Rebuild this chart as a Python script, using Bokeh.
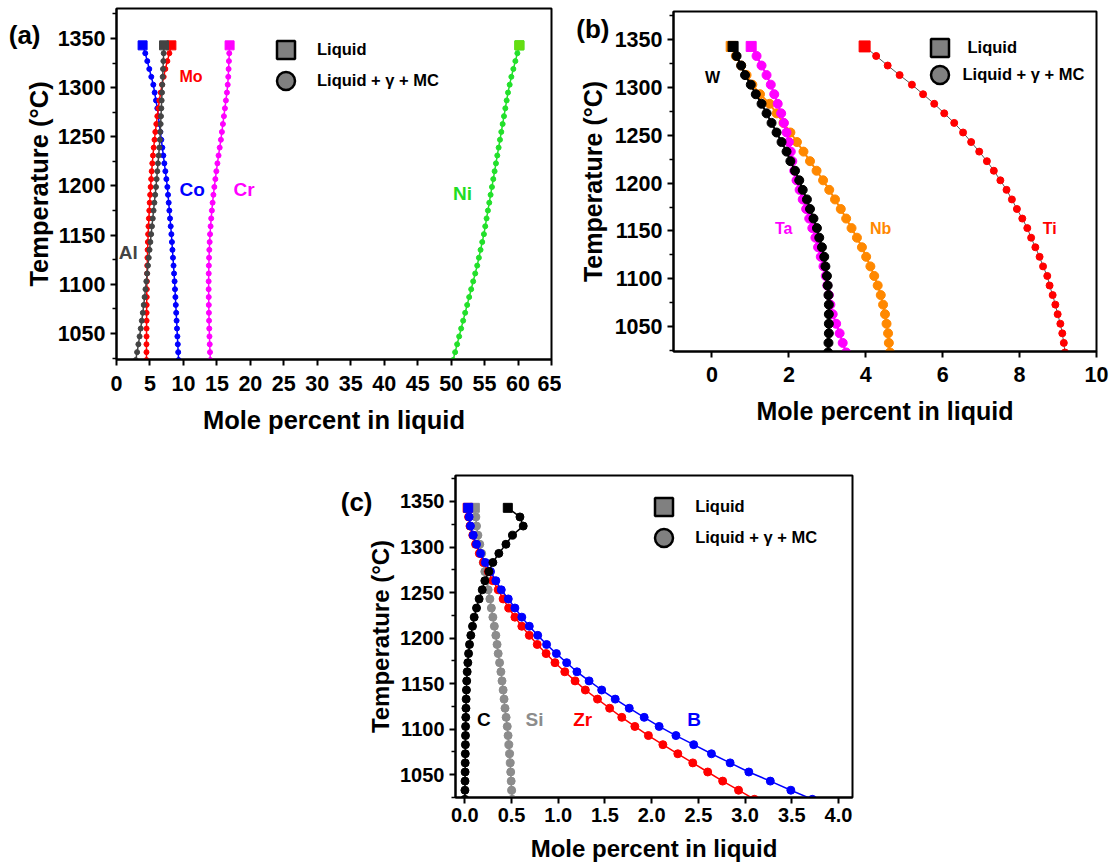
from bokeh.plotting import figure
from bokeh.layouts import column, row
from bokeh.models import (Range1d, FixedTicker, Label, Legend, LegendItem,
                          NumeralTickFormatter, LinearAxis)
from bokeh.embed import file_html
from bokeh.resources import INLINE

FONT = "Liberation Sans"

# ---------------- data ----------------
# (a) major elements, temperature steps of 8 degC
temp_a = [1343, 1335, 1327, 1319, 1311, 1303, 1295, 1287, 1279, 1271, 1263,
          1255, 1247, 1239, 1231, 1223, 1215, 1207, 1199, 1191, 1183, 1175,
          1167, 1159, 1151, 1143, 1135, 1127, 1119, 1111, 1103, 1095, 1087,
          1079, 1071, 1063, 1055, 1047, 1039, 1031, 1023]
al = [7.1, 7.05, 7.0, 6.95, 6.9, 6.85, 6.8, 6.75, 6.7, 6.65, 6.6, 6.55, 6.48,
      6.4, 6.3, 6.2, 6.1, 6.0, 5.9, 5.78, 5.66, 5.54, 5.42, 5.3, 5.18, 5.06,
      4.94, 4.82, 4.7, 4.58, 4.46, 4.33, 4.2, 4.07, 3.93, 3.78, 3.62, 3.45,
      3.27, 3.08, 2.88]
mo = [8.2, 7.9, 7.6, 7.3, 7.05, 6.8, 6.6, 6.4, 6.25, 6.1, 5.95, 5.8, 5.68,
      5.56, 5.45, 5.35, 5.26, 5.18, 5.1, 5.03, 4.96, 4.9, 4.84, 4.78, 4.73,
      4.69, 4.65, 4.62, 4.59, 4.57, 4.55, 4.53, 4.52, 4.51, 4.5, 4.5, 4.49,
      4.49, 4.48, 4.48, 4.48]
co = [3.9, 4.3, 4.6, 4.9, 5.2, 5.5, 5.7, 5.9, 6.1, 6.25, 6.4, 6.55, 6.7,
      6.85, 7.0, 7.15, 7.3, 7.45, 7.6, 7.7, 7.8, 7.9, 8.0, 8.1, 8.2, 8.28,
      8.36, 8.44, 8.52, 8.6, 8.68, 8.74, 8.8, 8.86, 8.92, 8.98, 9.04, 9.1,
      9.16, 9.22, 9.28]
cr = [16.9, 16.85, 16.8, 16.75, 16.7, 16.62, 16.5, 16.35, 16.2, 16.05, 15.9,
      15.75, 15.6, 15.42, 15.25, 15.08, 14.92, 14.77, 14.62, 14.48, 14.36,
      14.25, 14.15, 14.06, 13.98, 13.92, 13.87, 13.83, 13.8, 13.78, 13.77,
      13.77, 13.78, 13.79, 13.81, 13.83, 13.86, 13.89, 13.93, 13.97, 14.02]
ni = [60.2, 59.9, 59.6, 59.3, 59.0, 58.75, 58.5, 58.3, 58.1, 57.9, 57.7, 57.5,
      57.3, 57.1, 56.9, 56.7, 56.5, 56.3, 56.1, 55.9, 55.7, 55.5, 55.3, 55.1,
      54.9, 54.65, 54.4, 54.15, 53.9, 53.6, 53.3, 53.0, 52.7, 52.4, 52.1,
      51.8, 51.5, 51.2, 50.9, 50.6, 50.3]

# (b) and (c), temperature steps of 10 degC
temp_bc = [1343, 1333, 1323, 1313, 1303, 1293, 1283, 1273, 1263, 1253, 1243,
           1233, 1223, 1213, 1203, 1193, 1183, 1173, 1163, 1153, 1143, 1133,
           1123, 1113, 1103, 1093, 1083, 1073, 1063, 1053, 1043, 1033, 1023]
w = [0.55, 0.64, 0.76, 0.86, 1.01, 1.14, 1.29, 1.42, 1.55, 1.68, 1.81, 1.94,
     2.04, 2.16, 2.27, 2.36, 2.47, 2.55, 2.64, 2.73, 2.79, 2.86, 2.92, 2.95,
     2.99, 3.01, 3.03, 3.04, 3.04, 3.04, 3.04, 3.03, 3.02]
ta = [1.02, 1.16, 1.29, 1.42, 1.53, 1.62, 1.71, 1.80, 1.87, 1.94, 2.00, 2.05,
      2.09, 2.14, 2.20, 2.28, 2.36, 2.45, 2.53, 2.61, 2.69, 2.76, 2.83, 2.90,
      2.96, 3.00, 3.04, 3.08, 3.14, 3.23, 3.32, 3.40, 3.49]
nb = [0.50, 0.62, 0.76, 0.90, 1.05, 1.25, 1.50, 1.68, 1.86, 2.04, 2.21, 2.38,
      2.55, 2.72, 2.89, 3.05, 3.20, 3.35, 3.49, 3.63, 3.77, 3.90, 4.01, 4.12,
      4.22, 4.31, 4.39, 4.45, 4.50, 4.54, 4.58, 4.60, 4.63]
ti = [3.97, 4.27, 4.57, 4.88, 5.20, 5.49, 5.78, 6.04, 6.30, 6.53, 6.74, 6.95,
      7.15, 7.33, 7.50, 7.66, 7.80, 7.93, 8.07, 8.20, 8.30, 8.41, 8.52, 8.61,
      8.72, 8.78, 8.86, 8.93, 8.99, 9.06, 9.11, 9.15, 9.18]

c_el = [0.46, 0.59, 0.625, 0.51, 0.44, 0.364, 0.30, 0.257, 0.214, 0.186, 0.153,
        0.125, 0.10, 0.082, 0.064, 0.05, 0.04, 0.032, 0.025, 0.02, 0.017, 0.014,
        0.012, 0.01, 0.008, 0.007, 0.006, 0.005, 0.004, 0.003, 0.002, 0.001, 0.0]
si = [0.107, 0.118, 0.125, 0.14, 0.16, 0.18, 0.197, 0.214, 0.232, 0.25, 0.268,
      0.284, 0.30, 0.316, 0.332, 0.345, 0.357, 0.372, 0.386, 0.398, 0.41, 0.42,
      0.43, 0.442, 0.454, 0.463, 0.471, 0.479, 0.486, 0.491, 0.496, 0.501, 0.507]
zr = [0.03, 0.04, 0.055, 0.085, 0.115, 0.155, 0.2, 0.25, 0.30, 0.357, 0.41,
      0.47, 0.536, 0.61, 0.69, 0.775, 0.87, 0.965, 1.07, 1.18, 1.29, 1.42,
      1.55, 1.68, 1.82, 1.965, 2.12, 2.28, 2.44, 2.6, 2.76, 2.93, 3.1]
b_el = [0.036, 0.046, 0.06, 0.09, 0.125, 0.168, 0.22, 0.275, 0.332, 0.39, 0.465,
        0.536, 0.61, 0.69, 0.78, 0.875, 0.98, 1.09, 1.2, 1.33, 1.465, 1.61, 1.76,
        1.92, 2.08, 2.26, 2.45, 2.64, 2.84, 3.04, 3.27, 3.49, 3.72]

y_major = [1050, 1100, 1150, 1200, 1250, 1300, 1350]
y_minor = [1025, 1075, 1125, 1175, 1225, 1275, 1325, 1375]
x_ticks_a = [0, 5, 10, 15, 20, 25, 30, 35, 40, 45, 50, 55, 60, 65]
x_ticks_b = [0, 2, 4, 6, 8, 10]
x_ticks_c = [0.0, 0.5, 1.0, 1.5, 2.0, 2.5, 3.0, 3.5, 4.0]

X_TITLE = "Mole percent in liquid"
Y_TITLE = "Temperature (°C)"
KEY_LABELS = ["Liquid", "Liquid + \u03b3 + MC"]


def make_panel(fw, fh, left, right, top, bottom, xr, yr, xticks,
               title_px, tick_px, y_title_gap, x_tick_gap, x_title_gap):
    p = figure(width=left + fw + right, height=top + fh + bottom,
               x_range=Range1d(*xr), y_range=Range1d(*yr),
               output_backend="svg", toolbar_location=None,
               frame_align=False,
               min_border_left=left, min_border_right=right,
               min_border_top=top, min_border_bottom=bottom)
    p.grid.visible = False
    p.outline_line_color = "black"
    p.outline_line_width = 2
    p.xaxis.ticker = FixedTicker(ticks=xticks)
    p.yaxis.ticker = FixedTicker(ticks=y_major, minor_ticks=y_minor)
    p.xaxis.minor_tick_line_color = None
    p.xaxis.axis_label = X_TITLE
    p.yaxis.axis_label = Y_TITLE
    for ax in (p.xaxis[0], p.yaxis[0]):
        ax.axis_line_width = 2
        ax.major_tick_line_width = 2
        ax.minor_tick_line_width = 1.5
        ax.major_tick_in = 0
        ax.major_tick_out = 6
        ax.minor_tick_in = 0
        ax.minor_tick_out = 4
        ax.major_label_text_font = FONT
        ax.major_label_text_font_style = "bold"
        ax.major_label_text_font_size = tick_px
        ax.major_label_text_color = "black"
        ax.axis_label_text_font = FONT
        ax.axis_label_text_font_style = "bold"
        ax.axis_label_text_font_size = title_px
        ax.axis_label_text_color = "black"
    p.xaxis.major_label_standoff = x_tick_gap
    p.yaxis.major_label_standoff = 5
    p.xaxis.axis_label_standoff = x_title_gap
    p.yaxis.axis_label_standoff = y_title_gap
    return p


def series(p, temps, vals, color, dot, sq, lw, line_color=None):
    p.line(vals, temps, line_color=line_color or color, line_width=lw)
    p.scatter(vals[1:], temps[1:], marker="circle", size=dot,
              fill_color=color, line_color=color)
    p.scatter(vals[:1], temps[:1], marker="square", size=sq,
              fill_color=color, line_color=color)


def key(p, fh, cx, cy, step, standoffs, size=18):
    box = size / 0.4
    for i, (marker, text) in enumerate(zip(["square", "circle"], KEY_LABELS)):
        r = p.scatter([float("nan")], [float("nan")], marker=marker, size=size,
                      fill_color="#808080", line_color="black", line_width=2.5)
        yc = cy + i * step
        leg = Legend(items=[LegendItem(label=text, renderers=[r])],
                     location=(cx - box / 2, fh - yc - box / 2),
                     glyph_width=int(box), glyph_height=int(box),
                     label_standoff=int(standoffs[i]), padding=0, margin=0,
                     spacing=0, border_line_color=None,
                     background_fill_alpha=0,
                     label_text_font=FONT, label_text_font_style="bold",
                     label_text_font_size="16.5px", label_text_color="black")
        p.add_layout(leg)


def tag(p, x, y, text, color, size):
    p.add_layout(Label(x=x, y=y, text=text, text_color=color, text_font=FONT,
                       text_font_style="bold", text_font_size=size,
                       text_baseline="middle", text_align="left"))


def panel_letter(p, y, text, shift):
    # an outer, line-less left axis whose single tick label is the panel letter
    ax = LinearAxis(ticker=FixedTicker(ticks=[y], minor_ticks=[]),
                    major_label_overrides={y: text},
                    axis_line_color=None, major_tick_line_color=None,
                    minor_tick_line_color=None, major_tick_out=0,
                    major_tick_in=0, minor_tick_out=0, minor_tick_in=0,
                    major_label_standoff=shift,
                    major_label_text_font=FONT,
                    major_label_text_font_style="bold",
                    major_label_text_font_size="26px",
                    major_label_text_color="black")
    p.add_layout(ax, "left")


# ---------------- panel (a) ----------------
FH_A, FH_B, FH_C = 351, 340, 322
pa = make_panel(435, FH_A, 116, 10, 8, 101, (0, 65), (1023.5, 1380.5),
                x_ticks_a, "25.5px", "21.5px", 2, 10, 12)
series(pa, temp_a, ni, "#22e02a", 5, 9, 1.5)
pa.scatter(ni[:1], temp_a[:1], marker="square", size=9, fill_color="#66dd11",
           line_color="#66dd11")
series(pa, temp_a, cr, "#ff00ff", 5, 9, 1.5)
series(pa, temp_a, co, "#0000ff", 5, 9, 1.5)
series(pa, temp_a, mo, "#ff0000", 5, 9, 1.5)
series(pa, temp_a, al, "#444444", 5, 9, 1.5)
tag(pa, 9.4, 1311, "Mo", "#ff0000", "16px")
tag(pa, 9.4, 1196, "Co", "#0000ff", "19px")
tag(pa, 17.5, 1196, "Cr", "#ff00ff", "19px")
tag(pa, 50.3, 1192, "Ni", "#22dd22", "19px")
tag(pa, 0.35, 1132, "Al", "#444444", "19px")
key(pa, FH_A, 285.5 - 116, 49.5 - 8, 31, [9, 9])
panel_letter(pa, 1353.5, "(a)", -19)

# ---------------- panel (b) ----------------
pb = make_panel(423, FH_B, 112, 14, 11, 109, (-1, 10), (1024, 1379.5),
                x_ticks_b, "25px", "21.5px", 5, 9, 12)
series(pb, temp_bc, ti, "#ff0000", 7, 11, 1, line_color="#555555")
series(pb, temp_bc, nb, "#ff8800", 9, 10, 2)
series(pb, temp_bc, ta, "#ff00ff", 9, 10, 2)
series(pb, temp_bc, w, "#000000", 9, 10, 2)
tag(pb, -0.18, 1310, "W", "#000000", "16px")
tag(pb, 1.64, 1153, "Ta", "#ff00ff", "16px")
tag(pb, 4.11, 1153, "Nb", "#ff8800", "16px")
tag(pb, 8.6, 1153, "Ti", "#ff0000", "16px")
key(pb, FH_B, 939 - 673, 47 - 11, 27.5, [6, 1])
panel_letter(pb, 1361.5, "(b)", -34)

# ---------------- panel (c) ----------------
pc = make_panel(397, FH_C, 455, 258, 15, 69, (-0.1, 4.15), (1025, 1378.5),
                x_ticks_c, "24px", "20px", 3, 4, 10)
pc.xaxis.formatter = NumeralTickFormatter(format="0.0")
series(pc, temp_bc, si, "#8c8c8c", 8, 9, 1.5)
series(pc, temp_bc, zr, "#ff0000", 8, 9, 1.5)
series(pc, temp_bc, b_el, "#0000ff", 8, 9, 1.5)
series(pc, temp_bc, c_el, "#000000", 8, 9, 1.5)
tag(pc, 0.13, 1111, "C", "#000000", "19px")
tag(pc, 0.65, 1111, "Si", "#8c8c8c", "19px")
tag(pc, 1.16, 1111, "Zr", "#ff0000", "19px")
tag(pc, 2.38, 1111, "B", "#0000ff", "19px")
key(pc, FH_C, 663.7 - 455, 506 - 475, 31.5, [9, 9])
panel_letter(pc, 1349.5, "(c)", -8)

layout = column(row(pa, pb), pc)
open("out.html", "w").write(file_html(layout, INLINE))
